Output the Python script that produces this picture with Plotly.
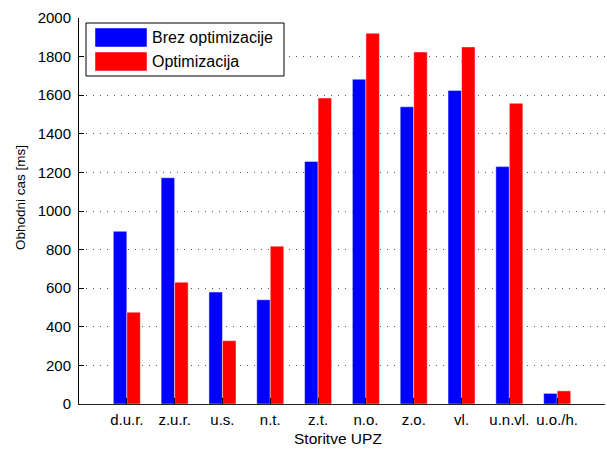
import plotly.graph_objects as go

# Service categories and measured round-trip times (ms)
categories = ["d.u.r.", "z.u.r.", "u.s.", "n.t.", "z.t.", "n.o.", "z.o.", "vl.", "u.n.vl.", "u.o./h."]
brez_optimizacije = [895, 1172, 580, 540, 1257, 1683, 1540, 1625, 1230, 55]
optimizacija = [476, 631, 328, 818, 1585, 1921, 1824, 1850, 1558, 68]
series_names = ["Brez optimizacije", "Optimizacija"]
series_colors = ["#0000FF", "#FF0000"]
y_ticks = list(range(0, 2001, 200))

W, H = 607, 450
ML, MR, MT, MB = 79, 2, 18, 46
PW, PH = W - ML - MR, H - MT - MB


def px(x):
    return (x - ML) / PW


def py(y):
    return (H - MB - y) / PH


FONT = "Liberation Sans, Arial, sans-serif"
x_pos = list(range(1, len(categories) + 1))

fig = go.Figure()
for name, vals, col in zip(series_names, [brez_optimizacije, optimizacija], series_colors):
    fig.add_trace(go.Bar(
        x=x_pos, y=vals, name=name, showlegend=False,
        marker=dict(color=col, line=dict(color="rgba(255,255,255,0.45)", width=1)),
    ))

fig.update_layout(
    width=W, height=H,
    margin=dict(l=ML, r=MR, t=MT, b=MB),
    paper_bgcolor="white", plot_bgcolor="white",
    barmode="group", bargap=0.435, bargroupgap=0.0,
    font=dict(family=FONT, size=15, color="black"),
)

fig.update_xaxes(
    range=[0, 11], tickmode="array", tickvals=x_pos, ticktext=categories,
    ticks="inside", ticklen=6, tickcolor="black", tickwidth=1,
    showline=True, linecolor="#222", linewidth=1, showgrid=False, zeroline=False,
    tickfont=dict(size=15, family=FONT), ticklabelstandoff=2,
)
fig.update_yaxes(
    range=[0, 2000], tickmode="array", tickvals=y_ticks,
    ticks="inside", ticklen=5, tickcolor="black", tickwidth=1,
    showline=True, linecolor="black", linewidth=1,
    showgrid=True, gridcolor="#555", gridwidth=1, griddash="1px,6px",
    zeroline=False, tickfont=dict(size=15, family=FONT), ticklabelstandoff=4,
)

# Axis titles
fig.add_annotation(text="Storitve UPZ", x=px(338), y=py(438), xref="paper", yref="paper",
                   showarrow=False, xanchor="center", yanchor="middle",
                   font=dict(size=15.5, family=FONT))
fig.add_annotation(text="Obhodni cas [ms]", x=px(20), y=py(198), xref="paper", yref="paper",
                   showarrow=False, xanchor="center", yanchor="middle", textangle=-90,
                   font=dict(size=13.5, family=FONT))

# Legend box with large colour swatches
fig.add_shape(type="rect", xref="paper", yref="paper",
              x0=px(86), x1=px(284), y0=py(76), y1=py(23),
              line=dict(color="black", width=1), fillcolor="white", layer="above")
for i, (name, col) in enumerate(zip(series_names, series_colors)):
    top = 28 + i * 24
    fig.add_shape(type="rect", xref="paper", yref="paper",
                  x0=px(95), x1=px(147), y0=py(top + 19), y1=py(top),
                  line=dict(color="rgba(255,255,255,0.45)", width=1), fillcolor=col, layer="above")
    fig.add_annotation(text=name, x=px(150), y=py(top + 9.5), xref="paper", yref="paper",
                       showarrow=False, xanchor="left", yanchor="middle",
                       font=dict(size=16, family=FONT))

fig.write_html("out.html")
